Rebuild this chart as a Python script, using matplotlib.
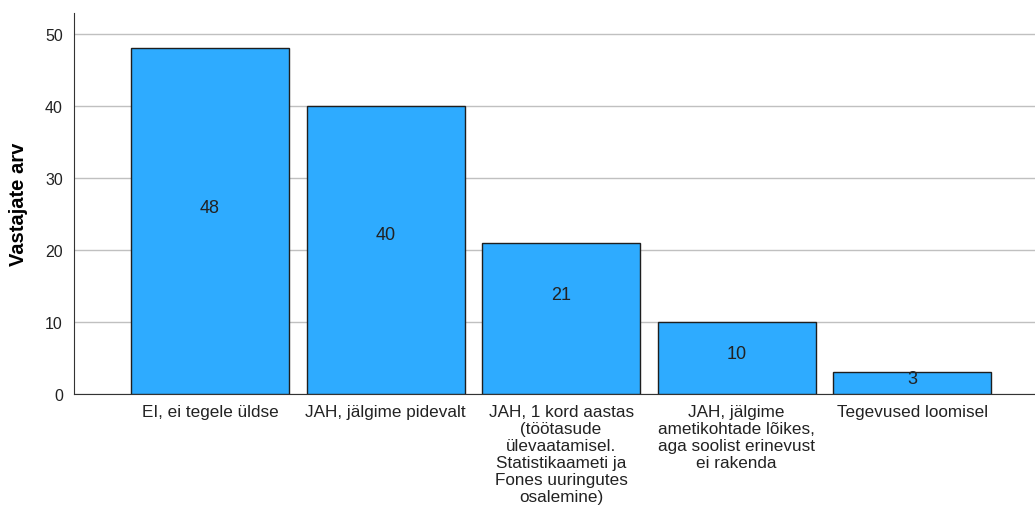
import matplotlib.pyplot as plt

plt.rcParams['font.family'] = ['Liberation Sans', 'DejaVu Sans']

# Vastuste kategooriad ja vastajate arv
kategooriad = [
    "EI, ei tegele üldse",
    "JAH, jälgime pidevalt",
    "JAH, 1 kord aastas\n(töötasude\nülevaatamisel.\nStatistikaameti ja\nFones uuringutes\nosalemine)",
    "JAH, jälgime\nametikohtade lõikes,\naga soolist erinevust\nei rakenda",
    "Tegevused loomisel",
]
vastajad = [48, 40, 21, 10, 3]
y_ticks = [0, 10, 20, 30, 40, 50]

# sildi kõrgus tulba kõrguse osana
sildi_koht = [0.54, 0.555, 0.66, 0.56, 0.70]

fig = plt.figure(figsize=(10.35, 5.06), dpi=100)
ax = fig.add_axes([74 / 1035, 111 / 506, (1035 - 74) / 1035, (395 - 14) / 506])

x = range(len(kategooriad))
bars = ax.bar(x, vastajad, width=0.9, color='#2eabff', edgecolor='#1e1e1e',
              linewidth=1.0, zorder=3)

for b, v, f in zip(bars, vastajad, sildi_koht):
    ax.text(b.get_x() + b.get_width() / 2, v * f, str(v), ha='center',
            va='center', fontsize=13, color='#222222', zorder=4)

ax.set_xlim(-0.775, 4.70)
ax.set_ylim(0, 52.9)
ax.set_yticks(y_ticks)
ax.set_yticklabels([str(t) for t in y_ticks], fontsize=11.5, color='#222222')
ax.set_xticks(list(x))
ax.set_xticklabels(kategooriad, fontsize=12.3, color='#222222',
                   linespacing=1.17, va='top')
ax.tick_params(axis='x', length=0, pad=7)
ax.tick_params(axis='y', length=0, pad=8)

ax.yaxis.grid(True, color='#c0c0c0', linewidth=1.0, zorder=0)
ax.set_ylabel("Vastajate arv", fontsize=14.5, fontweight='bold')
ax.yaxis.set_label_coords(-0.048, 0.5)

for s in ['top', 'right']:
    ax.spines[s].set_visible(False)
ax.spines['left'].set_color('#333333')
ax.spines['bottom'].set_color('#333333')

fig.savefig('out.png', dpi=100)
